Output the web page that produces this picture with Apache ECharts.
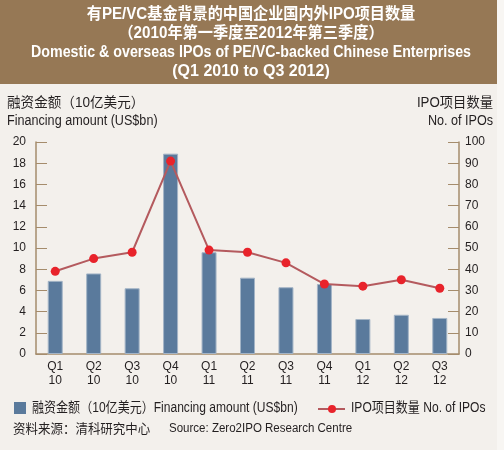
<!DOCTYPE html>
<html><head><meta charset="utf-8">
<script src="https://cdn.jsdelivr.net/npm/echarts@6/dist/echarts.min.js"></script>
<style>html,body{margin:0;padding:0;background:#F3F0EC}#c{width:504px;height:450px}</style>
</head><body><div id="c"></div>
<script>
const quarters = ['Q1','Q2','Q3','Q4','Q1','Q2','Q3','Q4','Q1','Q2','Q3'];
const years = ['10','10','10','10','11','11','11','11','12','12','12'];
const financing = [6.9, 7.6, 6.2, 18.9, 9.6, 7.2, 6.3, 6.6, 3.3, 3.7, 3.4];
const ipos = [39, 45, 48, 91, 49, 48, 43, 33, 32, 35, 31];
const leftTicks = [0, 20, 2];
const rightTicks = [0, 100, 10];
const barName = '融资金额（10亿美元）Financing amount (US$bn)';
const lineName = 'IPO项目数量 No. of IPOs';
const titleLines = ['有PE/VC基金背景的中国企业国内外IPO项目数量','（2010年第一季度至2012年第三季度）','Domestic & overseas IPOs of PE/VC-backed Chinese Enterprises','(Q1 2010 to Q3 2012)'];
const leftName = ['融资金额（10亿美元）','Financing amount (US$bn)'];
const rightName = ['IPO项目数量','No. of IPOs'];
const sourceCn = '资料来源：清科研究中心';
const sourceEn = 'Source: Zero2IPO Research Centre';

const FONT = "'Liberation Sans','Noto Sans CJK SC',sans-serif";
const categories = quarters.map((q,i)=>q+'\n'+years[i]);
const axisCol = '#A58C6C';
const txt = '#231F20';
const barCol = '#5A7A9C';
const lineCol = '#B45A5E';
const dotCol = '#E8232B';

function t(x, y, text, size, sx, align, weight, fill){
  return {type:'text', x:x, y:y, scaleX:sx, z:10,
    style:{x:0, y:0, text:text, fill:fill||txt, font:(weight||'normal')+' '+size+'px '+FONT,
      align:align||'left', verticalAlign:'middle'}};
}

const graphics = [
  {type:'rect', z:-1, shape:{x:0,y:0,width:497,height:84}, style:{fill:'#967855'}},
  {type:'rect', z:-1, shape:{x:497,y:0,width:7,height:450}, style:{fill:'#F8F6F3'}},
];
const titleY = [15, 34, 53, 72];
const titleScale = [0.945, 0.95, 0.89, 1.0];
titleLines.forEach((s,i)=>graphics.push(t(251, titleY[i], s, 16, titleScale[i], 'center', 'bold', '#fff')));
graphics.push(t(7, 103, leftName[0], 14, 0.97));
graphics.push(t(7, 121, leftName[1], 14, 0.9));
graphics.push(t(493, 103, rightName[0], 14, 0.95, 'right'));
graphics.push(t(493, 121, rightName[1], 14, 0.9, 'right'));
// legend
graphics.push({type:'rect', shape:{x:14,y:402,width:12,height:12}, style:{fill:barCol}});
graphics.push(t(32, 408, barName, 14, 0.86));
graphics.push({type:'line', shape:{x1:318,y1:409,x2:345,y2:409}, style:{stroke:lineCol, lineWidth:2}});
graphics.push({type:'circle', shape:{cx:332,cy:409,r:4}, style:{fill:dotCol}});
graphics.push(t(351, 408, lineName, 14, 0.86));
graphics.push(t(13, 429, sourceCn, 13, 0.96));
graphics.push(t(169, 429, sourceEn, 12, 0.96));

const chart = echarts.init(document.getElementById('c'));
chart.setOption({
  backgroundColor:'#F3F0EC',
  textStyle:{fontFamily:FONT},
  graphic:graphics,
  legend:{show:false, data:[barName, lineName]},
  grid:{left:36, right:45, top:142, bottom:96},
  xAxis:{type:'category', data:categories,
    axisLine:{lineStyle:{color:axisCol, width:1.5}},
    axisTick:{inside:true, length:6, lineStyle:{color:axisCol}},
    axisLabel:{color:txt, fontSize:12, lineHeight:14, margin:6, fontFamily:FONT}},
  yAxis:[
    {type:'value', min:leftTicks[0], max:leftTicks[1], interval:leftTicks[2], splitLine:{show:false},
      axisLine:{show:true, lineStyle:{color:axisCol, width:1.5}},
      axisTick:{show:true, inside:true, length:11, lineStyle:{color:axisCol}},
      axisLabel:{color:txt, fontSize:12, margin:10, fontFamily:FONT}},
    {type:'value', min:rightTicks[0], max:rightTicks[1], interval:rightTicks[2], splitLine:{show:false}, position:'right',
      axisLine:{show:true, lineStyle:{color:axisCol, width:1.5}},
      axisTick:{show:true, inside:true, length:11, lineStyle:{color:axisCol}},
      axisLabel:{color:txt, fontSize:12, margin:6, fontFamily:FONT}}
  ],
  series:[
    {name:barName, type:'bar', data:financing, barWidth:15, yAxisIndex:0,
      itemStyle:{color:barCol, borderColor:'#A3B4C6', borderWidth:1}},
    {name:lineName, type:'line', data:ipos, yAxisIndex:1, symbol:'circle', symbolSize:9,
      lineStyle:{color:lineCol, width:2}, itemStyle:{color:dotCol}}
  ]
});
</script></body></html>
